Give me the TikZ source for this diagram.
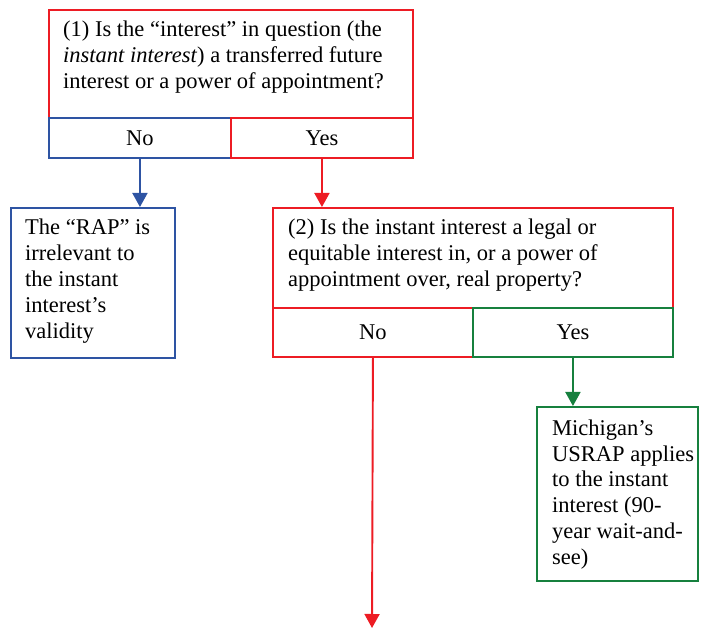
\documentclass[tikz,border=0pt]{standalone}
\usepackage{fontspec}
\setmainfont{Liberation Serif}
\usetikzlibrary{arrows.meta}
\definecolor{cred}{RGB}{237,28,36}
\definecolor{cblue}{RGB}{46,84,163}
\definecolor{cgreen}{RGB}{22,128,62}
\begin{document}
\begin{tikzpicture}[x=1pt,y=-1pt,
  frame/.style={draw, line width=1.9pt, inner sep=0pt, anchor=north west},
  txt/.style={inner sep=0pt, anchor=base west, align=left, font=\fontsize{22.5}{26}\selectfont},
  cell/.style={font=\fontsize{22.5}{26}\selectfont, inner sep=0pt},
  arr/.style={line width=1.9pt, -{Triangle[width=15pt,length=14pt]}}]
\useasboundingbox (0,0) rectangle (705,628);
% Box 1
\node[frame, draw=cred, minimum width=364pt, minimum height=108pt] (q1) at (48,9) {};
\node[frame, draw=cblue, minimum width=182pt, minimum height=40pt] (q1no) at (48,117) {};
\node[frame, draw=cred, minimum width=182pt, minimum height=40pt] (q1yes) at (230,117) {};
\node[txt] (q1t) at (63,89) {(1) Is the “interest” in question (the\\\textit{instant interest}) a transferred future\\interest or a power of appointment?};
\node[cell] (q1nol) at (q1no.center) {No};
\node[cell] (q1yesl) at (q1yes.center) {Yes};
% Blue box
\node[frame, draw=cblue, minimum width=164pt, minimum height=150pt] (rap) at (10,207) {};
\node[txt] (rapt) at (25,339) {The “RAP” is\\irrelevant to\\the instant\\interest’s\\validity};
% Box 2
\node[frame, draw=cred, minimum width=400pt, minimum height=100pt] (q2) at (272,207) {};
\node[frame, draw=cred, minimum width=200pt, minimum height=49pt] (q2no) at (272,307) {};
\node[frame, draw=cgreen, minimum width=200pt, minimum height=49pt] (q2yes) at (472,307) {};
\node[txt] (q2t) at (288,287) {(2) Is the instant interest a legal or\\equitable interest in, or a power of\\appointment over, real property?};
\node[cell] (q2nol) at (q2no.center) {No};
\node[cell] (q2yesl) at (q2yes.center) {Yes};
% Green box
\node[frame, draw=cgreen, minimum width=161pt, minimum height=174pt] (mi) at (536,406) {};
\node[txt] (mit) at (552,565) {Michigan’s\\USRAP applies\\to the instant\\interest (90-\\year wait-and-\\see)};
% Arrows
\coordinate (endpt) at (372,628);
\draw[arr, cblue] (q1no.south) -- (rap.north -| q1no.south);
\draw[arr, cred] (q1yes.south) -- (q2.north -| q1yes.south);
\draw[arr, cred] (q2no.south) -- (endpt);
\draw[arr, cgreen] (q2yes.south) -- (mi.north -| q2yes.south);
\end{tikzpicture}
\end{document}
